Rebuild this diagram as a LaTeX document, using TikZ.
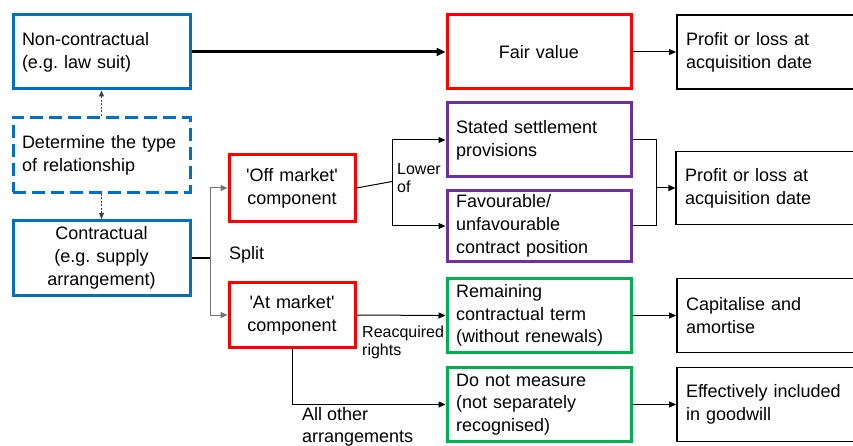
\documentclass[tikz,border=0pt]{standalone}
\usepackage{fontspec}
\setmainfont{Liberation Sans}
\usetikzlibrary{arrows.meta}
\definecolor{cblue}{HTML}{0070C0}
\definecolor{cred}{HTML}{FF0000}
\definecolor{cpurple}{HTML}{7030A0}
\definecolor{cgreen}{HTML}{00B050}
\newcommand{\sq}{\textquotesingle}
\begin{document}
\frenchspacing
\begin{tikzpicture}[x=1pt,y=-1pt,
  bx/.style={draw, inner xsep=9pt, inner ysep=0pt,
    font=\fontsize{18}{22.7}\selectfont},
  leftbox/.style={bx, align=left},
  midbox/.style={bx, align=center},
  bluebox/.style={draw=cblue, line width=3pt},
  redbox/.style={draw=cred, line width=3pt},
  purplebox/.style={draw=cpurple, line width=3pt},
  greenbox/.style={draw=cgreen, line width=3pt},
  blackbox/.style={draw=black, line width=1.8pt},
  conn/.style={line width=1pt, -{Triangle[length=7pt,width=6pt]}},
  plain/.style={line width=1pt},
  dotconn/.style={line width=0.9pt, draw=black!75, dash pattern=on 2pt off 1.5pt,
    -{Triangle[length=6pt,width=5pt]}},
  small/.style={font=\fontsize{16}{18}\selectfont, align=left, inner sep=0pt},
  lbl/.style={font=\fontsize{18}{22.7}\selectfont, align=left, inner sep=0pt},
]
\clip (0,0) rectangle (853,446);
\fill[white] (0,0) rectangle (853,446);

% left column: type of relationship
\node[leftbox, bluebox, minimum width=177pt, minimum height=74pt, text width=159pt]
  (nonc) at (101.5,52) {Non-contractual\\(e.g. law suit)};
\node[leftbox, bluebox, dash pattern=on 13pt off 6pt, minimum width=177pt, minimum height=75pt, text width=159pt]
  (det) at (101.5,155) {Determine the type\\of relationship};
\node[midbox, bluebox, minimum width=177pt, minimum height=75pt, text width=159pt]
  (con) at (101.5,258) {Contractual\\(e.g. supply\\arrangement)};

% components
\node[midbox, redbox, minimum width=126pt, minimum height=67pt, text width=108pt]
  (off) at (292,188) {\sq Off market\sq\\component};
\node[midbox, redbox, minimum width=126pt, minimum height=65pt, text width=108pt]
  (atm) at (292,315) {\sq At market\sq\\component};

% measurement column
\node[midbox, redbox, minimum width=184pt, minimum height=74pt, text width=166pt]
  (fair) at (539,52) {Fair value};
\node[leftbox, purplebox, minimum width=184pt, minimum height=74pt, text width=166pt]
  (stat) at (539,140) {Stated settlement\\provisions};
\node[leftbox, purplebox, minimum width=184pt, minimum height=71pt, text width=166pt]
  (fav) at (539,226) {Favourable/\\unfavourable\\contract position};
\node[leftbox, greenbox, minimum width=184pt, minimum height=74pt, text width=166pt]
  (rem) at (539,315.5) {Remaining\\contractual term\\(without renewals)};
\node[leftbox, greenbox, minimum width=184pt, minimum height=74pt, text width=166pt]
  (dnm) at (539,404.5) {Do not measure\\(not separately\\recognised)};

% outcome column
\node[leftbox, blackbox, minimum width=183pt, minimum height=74pt, text width=165pt]
  (pl1) at (768.5,52) {Profit or loss at\\acquisition date};
\node[leftbox, draw=black, line width=1.2pt, minimum width=184pt, minimum height=73pt, text width=166pt]
  (pl2) at (768,188) {Profit or loss at\\acquisition date};
\node[leftbox, blackbox, minimum width=183pt, minimum height=74pt, text width=165pt]
  (cap) at (768.5,315.5) {Capitalise and\\amortise};
\node[leftbox, blackbox, minimum width=183pt, minimum height=74pt, text width=165pt]
  (eff) at (768.5,404.5) {Effectively included\\in goodwill};

% relationship type
\draw[dotconn] (det.north) -- (nonc.south);
\draw[dotconn] (det.south) -- (con.north);
\draw[line width=3pt, -{Triangle[length=9pt,width=8pt]}] (nonc.east) -- (fair.west);
\draw[conn] (fair.east) -- (pl1.west);

% split of the contractual relationship
\coordinate (sp) at (210,258);
\draw[line width=2pt] (con.east) -- (sp);
\draw[conn, draw=black!55] (sp) |- (off.west);
\draw[conn, draw=black!55] (sp) |- (atm.west);
\node[lbl, anchor=west] (split) at (229,255) {Split};

% off market component
\coordinate (lw) at (392,181.5);
\draw[plain] (off.east) -- (lw);
\draw[conn] (lw) |- (stat.west);
\draw[conn] (lw) |- (fav.west);
\node[small, anchor=north west] (lower) at (397,163) {Lower\\of};
\coordinate (mg) at (656,188);
\draw[plain] (stat.east) -| (mg);
\draw[plain] (fav.east) -| (mg);
\draw[conn] (mg) -- (pl2.west);

% at market component
\draw[conn] (atm.east) -- (rem.west);
\node[small, anchor=north west] (reacq) at (362,326) {Reacquired\\rights};
\draw[conn] (atm.south) |- (dnm.west);
\node[lbl, anchor=north west] (other) at (302,407) {All other\\arrangements};
\draw[conn] (rem.east) -- (cap.west);
\draw[conn] (dnm.east) -- (eff.west);
\end{tikzpicture}
\end{document}
